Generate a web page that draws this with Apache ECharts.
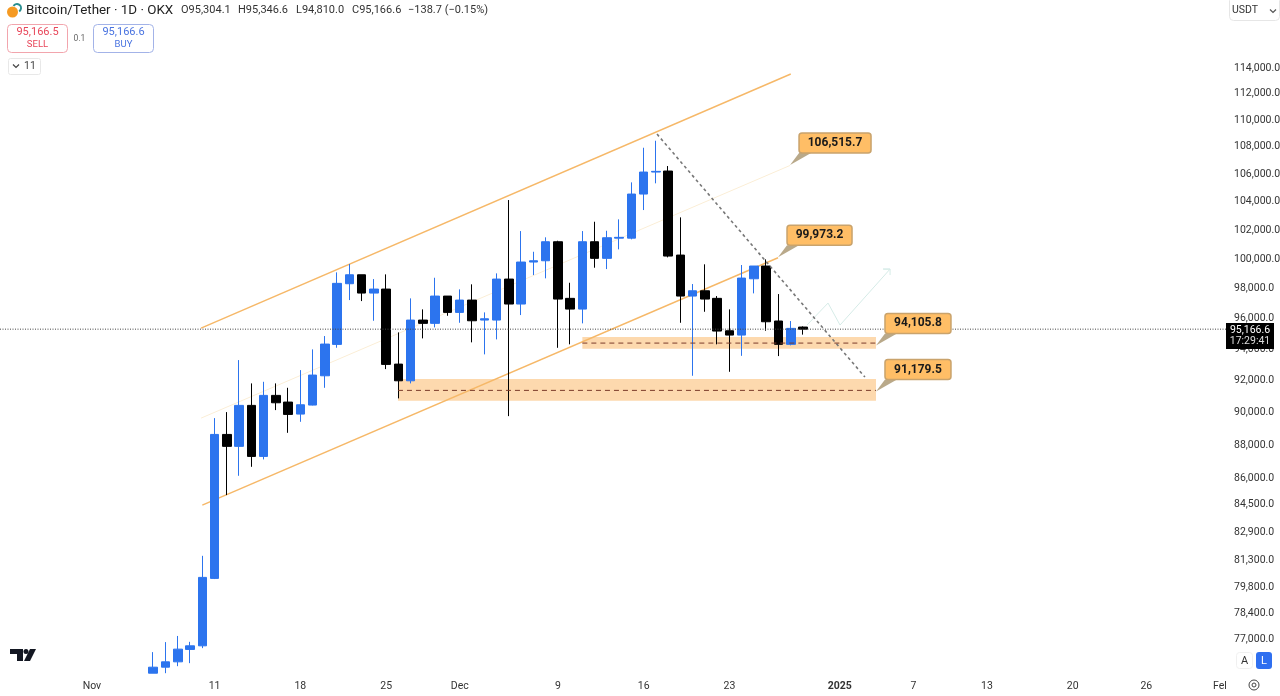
<!DOCTYPE html>
<html lang="en">

<head>
    <meta charset="UTF-8">
    <title>Bitcoin/Tether 1D OKX</title>
    <script src="https://cdn.jsdelivr.net/npm/echarts/dist/echarts.min.js"></script>
    <style>
        html, body { margin: 0; height: 100%; background: #fff; }
        #chart { width: 1280px; height: 696px; }
    </style>
</head>

<body>
    <div id="chart"></div>
    <script>
        var categories = [
            '2024-10-25','2024-10-26','2024-10-27','2024-10-28','2024-10-29','2024-10-30','2024-10-31',
            '2024-11-01','2024-11-02','2024-11-03','2024-11-04','2024-11-05','2024-11-06','2024-11-07',
            '2024-11-08','2024-11-09','2024-11-10','2024-11-11','2024-11-12','2024-11-13','2024-11-14',
            '2024-11-15','2024-11-16','2024-11-17','2024-11-18','2024-11-19','2024-11-20','2024-11-21',
            '2024-11-22','2024-11-23','2024-11-24','2024-11-25','2024-11-26','2024-11-27','2024-11-28',
            '2024-11-29','2024-11-30','2024-12-01','2024-12-02','2024-12-03','2024-12-04','2024-12-05',
            '2024-12-06','2024-12-07','2024-12-08','2024-12-09','2024-12-10','2024-12-11','2024-12-12',
            '2024-12-13','2024-12-14','2024-12-15','2024-12-16','2024-12-17','2024-12-18','2024-12-19',
            '2024-12-20','2024-12-21','2024-12-22','2024-12-23','2024-12-24','2024-12-25','2024-12-26',
            '2024-12-27','2024-12-28','2024-12-29','2024-12-30','2024-12-31','2025-01-01','2025-01-02',
            '2025-01-03','2025-01-04','2025-01-05','2025-01-06','2025-01-07','2025-01-08','2025-01-09',
            '2025-01-10','2025-01-11','2025-01-12','2025-01-13','2025-01-14','2025-01-15','2025-01-16',
            '2025-01-17','2025-01-18','2025-01-19','2025-01-20','2025-01-21','2025-01-22','2025-01-23',
            '2025-01-24','2025-01-25','2025-01-26','2025-01-27','2025-01-28','2025-01-29','2025-01-30',
            '2025-01-31','2025-02-01'
        ];
        var xTickDates = ['2024-11-01','2024-11-11','2024-11-18','2024-11-25','2024-12-01','2024-12-09','2024-12-16','2024-12-23','2025-01-01','2025-01-07','2025-01-13','2025-01-20','2025-01-26','2025-02-01'];
        var xTickLabels = ['Nov','11','18','25','Dec','9','16','23','2025','7','13','20','26','Fel'];
        var yTicks = [114000,112000,110000,108000,106000,104000,102000,100000,98000,96000,94000,92000,90000,88000,86000,84500,82900,81300,79800,78400,77000];

        // candles start on this day
        var firstCandle = '2024-11-06';
        var opens = [75155,75466,75743,76391,76580,80207,88535,87812,90317,87209,90939,90522,89779,90336,92170,94178,98180,98785,97553,97821,92912,91854,95762,95546,97352,96269,97085,95762,95762,98495,96821,99652,99740,101050,97200,96487,101050,99905,101300,101300,104411,106000,106073,100130,97352,97707,97200,95062,94780,98515,99380,95700,94181,95304.1];
        var closes = [75466,75743,76406,76580,80262,88535,87812,90317,87209,90939,90479,89759,90355,92215,94198,98206,98785,97553,97821,92893,91854,95762,95546,97352,96269,97085,95716,95847,98495,96821,99652,99740,101050,97152,96487,101050,99905,101328,101356,104411,106000,106050,100061,97352,97707,97152,95042,94780,98562,99380,95651,94181,95218,95166.6];
        var lows = [75155,75155,75518,75675,76459,80170,84925,86057,86589,87029,90025,88632,89305,90317,91413,93960,97085,97018,95716,92594,90752,91690,94566,95284,96045,95585,94309,93535,94500,89653,96091,98765,98543,93957,94181,95546,99264,99173,100524,101216,103271,105182,99972,95585,92171,96309,94181,92423,93440,97533,95062,93424,94116,94810];
        var highs = [76250,76776,77100,76790,81459,89531,89901,93168,91690,91791,91690,91414,92530,93855,94717,98949,99515,98785,98495,98813,94957,97199,96467,98583,97352,97801,98139,96269,98881,103983,101793,100358,101356,101119,98246,101793,102446,101814,102614,105252,107783,108302,106438,102754,98159,99496,97352,96467,99448,99380,99836,97486,95697,95346.6];

        // drawings: [day index, price]
        var upperChannel = [[15.9, 95238], [64.0, 113376]];
        var middleChannel = [[15.9, 89531], [63.94, 106480]];
        var lowerChannel = [[16.0, 84343], [62.96, 99950]];
        var trendLine = [[53.09, 108798], [70.05, 92087]];
        var forecastPath = [[65.32, 95435], [67.04, 96886], [68.02, 95435], [72.1, 99173], [71.53, 99173], [72.1, 99173], [72.1, 98765]];
        var lastPrice = [[-0.5, 95166.6], [99.5, 95166.6]];
        var levelA = [[47.0, 94262], [70.95, 94262]];
        var levelB = [[31.96, 91251], [70.95, 91251]];
        // [day start, day end, price top, price bottom]
        var zones = [[47.0, 70.95, 94651, 93893], [31.96, 70.95, 91961, 90603]];
        var calloutPoints = [[63.94, 106515.7], [62.96, 99973.2], [70.95, 94105.8], [70.95, 91179.5]];
        var calloutTexts = ['106,515.7', '99,973.2', '94,105.8', '91,179.5'];
        var calloutWidths = [72, 65, 66, 66];

        var FONT = 'Roboto, "Liberation Sans", sans-serif';
        var BLUE = '#2c74ee';
        var chart = echarts.init(document.getElementById('chart'));

        function line(data, color, width, type, z) {
            return {
                type: 'line', xAxisIndex: 1, yAxisIndex: 0, data: data, symbol: 'none', silent: true, z: z,
                lineStyle: { color: color, width: width, type: type }
            };
        }

        function renderZone(params, api) {
            var a = api.coord([api.value(0), api.value(2)]);
            var b = api.coord([api.value(1), api.value(3)]);
            return { type: 'rect', shape: { x: a[0], y: a[1], width: b[0] - a[0], height: b[1] - a[1] }, style: { fill: '#fdd9ae' } };
        }

        function renderCallout(params, api) {
            var p = api.coord([api.value(0), api.value(1)]);
            var w = calloutWidths[params.dataIndex];
            var top = p[1] - 32;
            return {
                type: 'group',
                children: [
                    { type: 'polygon', shape: { points: [[p[0], p[1]], [p[0] + 9, top + 20], [p[0] + 21, top + 20]] }, style: { fill: '#b9a98a' } },
                    { type: 'rect', shape: { x: p[0] + 9, y: top, width: w, height: 20, r: 3 }, style: { fill: '#ffbe66', stroke: '#c9a36c', lineWidth: 1.5 } },
                    { type: 'text', style: { x: p[0] + 9 + w / 2, y: top + 10, text: calloutTexts[params.dataIndex], fill: '#1a1a1a', font: 'bold 12px ' + FONT, textAlign: 'center', textVerticalAlign: 'middle' } }
                ]
            };
        }

        function txt(x, y, text, fill, font, align) {
            return { type: 'text', z: 100, style: { x: x, y: y, text: text, fill: fill, font: font + ' ' + FONT, textAlign: align || 'left', textVerticalAlign: 'middle' } };
        }

        function box(x, y, w, h, r, stroke, fill) {
            return { type: 'rect', z: 99, shape: { x: x, y: y, width: w, height: h, r: r }, style: { fill: fill || '#fff', stroke: stroke, lineWidth: 1 } };
        }

        function chevron(x, y, color) {
            return { type: 'polyline', z: 100, shape: { points: [[x - 3, y - 1.5], [x, y + 1.5], [x + 3, y - 1.5]] }, style: { stroke: color, lineWidth: 1.2, fill: null } };
        }

        var start = categories.indexOf(firstCandle);
        var candles = categories.map(function (d, i) {
            var k = i - start;
            return k >= 0 && k < opens.length ? [opens[k], closes[k], lows[k], highs[k]] : '-';
        });

        chart.setOption({
            animation: false,
            grid: { left: 0, right: 54, top: 0, bottom: 23, outerBoundsMode: 'none' },
            xAxis: [{
                type: 'category', data: categories, boundaryGap: true,
                axisLine: { show: false }, axisTick: { show: false }, splitLine: { show: false },
                axisLabel: {
                    margin: 7.5, fontSize: 10.5, fontFamily: FONT, color: '#333',
                    interval: function (i, value) { return xTickDates.indexOf(value) >= 0; },
                    formatter: function (value) {
                        var label = xTickLabels[xTickDates.indexOf(value)];
                        return label === '2025' ? '{b|2025}' : label;
                    },
                    rich: { b: { fontWeight: 'bold', fontSize: 10.5, fontFamily: FONT, color: '#333' } }
                }
            }, {
                type: 'value', min: -0.5, max: 99.5, show: false, splitLine: { show: false }
            }],
            yAxis: {
                type: 'log', position: 'right', min: 75165, max: 119283,
                axisLine: { show: false }, axisTick: { show: false }, splitLine: { show: false },
                axisLabel: {
                    margin: 8, fontSize: 10.5, fontFamily: FONT, color: '#333', customValues: yTicks,
                    formatter: function (v) { return '{p|' + Math.round(v).toLocaleString('en-US') + '.0}'; },
                    rich: { p: { fontSize: 10.5, fontFamily: FONT, color: '#333', padding: [4, 0, 0, 0] } }
                }
            },
            series: [
                { type: 'custom', xAxisIndex: 1, yAxisIndex: 0, data: zones, renderItem: renderZone, encode: { x: [0, 1], y: [2, 3] }, silent: true, z: 1 },
                line(upperChannel, '#f6b868', 1.5, 'solid', 2),
                line(middleChannel, '#fbeed6', 1, 'solid', 2),
                line(lowerChannel, '#f6b868', 1.5, 'solid', 2),
                {
                    type: 'candlestick', data: candles, barWidth: 9, silent: true, z: 3,
                    itemStyle: { color: BLUE, borderColor: BLUE, color0: '#000', borderColor0: '#000', borderWidth: 1 }
                },
                line(forecastPath, '#d5ebe7', 1, 'solid', 4),
                line(trendLine, '#777', 1.6, [3, 3], 4),
                line(levelA, '#7a3b2a', 1, [5, 4], 4),
                line(levelB, '#7a3b2a', 1, [5, 4], 4),
                line(lastPrice, '#444', 1, [1, 1.5], 4),
                { type: 'custom', xAxisIndex: 1, yAxisIndex: 0, data: calloutPoints, renderItem: renderCallout, encode: { x: 0, y: 1 }, clip: false, silent: true, z: 5 }
            ],
            graphic: [
                { type: 'circle', z: 100, shape: { cx: 12.5, cy: 12, r: 5.5 }, style: { fill: '#f59a23' } },
                { type: 'arc', z: 100, shape: { cx: 17, cy: 8, r: 4, startAngle: -2.6, endAngle: 1.0 }, style: { stroke: '#2a8f90', lineWidth: 2, fill: null } },
                txt(26, 10.5, 'Bitcoin/Tether · 1D · OKX', '#222', '13.4px'),
                txt(181, 10.5, 'O95,304.1', '#333', '11px'),
                txt(238, 10.5, 'H95,346.6', '#333', '11px'),
                txt(296, 10.5, 'L94,810.0', '#333', '11px'),
                txt(352, 10.5, 'C95,166.6', '#333', '11px'),
                txt(408, 10.5, '−138.7 (−0.15%)', '#333', '11px'),
                box(7.5, 24.5, 60, 28, 4, '#f2a5ad'),
                txt(37.5, 32.5, '95,166.5', '#e8475a', '11px', 'center'),
                txt(37.5, 45, 'SELL', '#e8475a', '9.5px', 'center'),
                txt(79.5, 38.5, '0.1', '#666', '8.5px', 'center'),
                box(93.5, 24.5, 60, 28, 4, '#a3b3e8'),
                txt(123.5, 32.5, '95,166.6', '#4a74e0', '11px', 'center'),
                txt(123.5, 45, 'BUY', '#4a74e0', '9.5px', 'center'),
                box(8.5, 58.5, 32, 16, 2, '#e8e8e8'),
                chevron(16, 66, '#444'),
                txt(30, 66.5, '11', '#444', '10.5px', 'center'),
                box(1229.5, -3.5, 50, 24, 4, '#e6e6e6'),
                txt(1232, 10, 'USDT', '#333', '10.5px'),
                chevron(1273, 11, '#555'),
                { type: 'polygon', z: 100, shape: { points: [[10, 649], [23, 649], [23, 661], [17, 661], [17, 654], [10, 654]] }, style: { fill: '#131722' } },
                { type: 'circle', z: 100, shape: { cx: 26, cy: 651.5, r: 2.5 }, style: { fill: '#131722' } },
                { type: 'polygon', z: 100, shape: { points: [[30, 649], [36, 649], [30, 661], [24, 661]] }, style: { fill: '#131722' } },
                { type: 'rect', z: 99, shape: { x: 1226, y: 323, width: 48, height: 26 }, style: { fill: '#000' } },
                txt(1250, 330.5, '95,166.6', '#fff', '10.5px', 'center'),
                txt(1250, 341.5, '17:29:41', '#ddd', '10.5px', 'center'),
                box(1236.5, 652.5, 16, 16, 3, '#f0f0f0'),
                txt(1244.5, 661, 'A', '#333', '11px', 'center'),
                { type: 'rect', z: 99, shape: { x: 1256, y: 652, width: 16, height: 17, r: 3 }, style: { fill: '#2f6ff0' } },
                txt(1264, 661, 'L', '#fff', '11px', 'center'),
                { type: 'circle', z: 100, shape: { cx: 1254, cy: 685, r: 5 }, style: { fill: null, stroke: '#444', lineWidth: 1 } },
                { type: 'circle', z: 100, shape: { cx: 1254, cy: 685, r: 2 }, style: { fill: null, stroke: '#444', lineWidth: 1 } }
            ]
        });
    </script>
</body>

</html>
